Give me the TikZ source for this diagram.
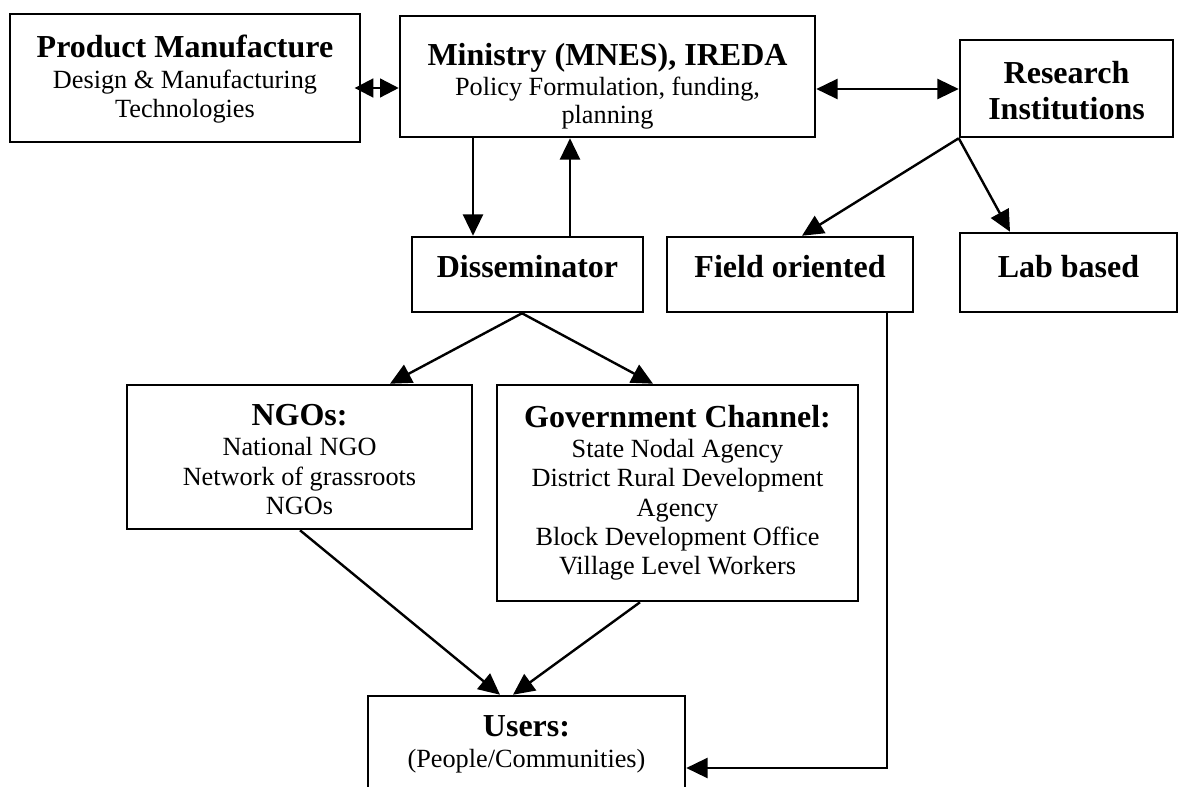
\documentclass[tikz,border=0pt]{standalone}
\usepackage{fontspec}
\setmainfont{Liberation Serif}
\usetikzlibrary{arrows.meta}
\newcommand\hdfont{\fontsize{24}{27}\selectfont\bfseries}
\newcommand\bdfont{\fontsize{19.7}{22}\selectfont}
\begin{document}
\begin{tikzpicture}[x=0.75pt,y=-0.75pt,
  box/.style={draw,line width=1.9pt,rectangle,inner sep=0pt},
  txt/.style={align=center,font=\bdfont,inner sep=0pt},
  oneline/.style={box,font=\hdfont,text height=16pt,text depth=11pt},
  arr/.style={line width=1.8pt,-{Triangle[length=16pt,width=15pt]}},
  darr/.style={line width=1.8pt,{Triangle[length=16pt,width=15pt]}-{Triangle[length=16pt,width=15pt]}},
  sdarr/.style={line width=1.8pt,{Triangle[length=14pt,width=14pt]}-{Triangle[length=14pt,width=14pt]}}]
\clip (0,0) rectangle (1182,787);
\fill[white] (0,0) rectangle (1182,787);

% top row
\node[box,minimum width=262.5pt,minimum height=96pt,
  label={[txt,yshift=-0.7pt]center:{{\hdfont Product Manufacture}\\[1.5pt] Design \& Manufacturing\\ Technologies}}]
  (prod) at (185,78) {};
\node[box,minimum width=311.25pt,minimum height=90.75pt,
  label={[txt,yshift=-7pt]center:{{\hdfont Ministry (MNES), IREDA}\\[1pt] Policy Formulation, funding,\\[-1.5pt] planning}}]
  (min) at (607.5,76.5) {};
\node[box,minimum width=159.75pt,minimum height=72.75pt,
  label={[txt,font=\hdfont,yshift=-1.5pt]center:{Research\\ Institutions}}]
  (res) at (1066.5,88.5) {};

% second row
\node[oneline,minimum width=173.25pt,minimum height=56.25pt] (dis) at (527.5,274.5) {Disseminator};
\node[oneline,minimum width=184.5pt,minimum height=56.25pt] (field) at (790,274.5) {Field oriented};
\node[oneline,text depth=9pt,minimum width=162.75pt,minimum height=59.25pt] (lab) at (1068.5,272.5) {Lab based};

% channels
\node[box,minimum width=258.75pt,minimum height=108pt,
  label={[txt,yshift=-2pt]center:{{\hdfont NGOs:}\\[0.5pt] National NGO\\ Network of grassroots\\ NGOs}}]
  (ngo) at (299.5,457) {};
\node[box,minimum width=270.75pt,minimum height=162pt,
  label={[txt]center:{{\hdfont Government Channel:}\\[0.5pt] State Nodal Agency\\ District Rural Development\\ Agency\\ Block Development Office\\ Village Level Workers}}]
  (gov) at (677.5,493) {};

% users
\node[box,minimum width=237.75pt,minimum height=72pt,
  label={[txt]center:{{\hdfont Users:}\\[1pt] (People/Communities)}}]
  (users) at (526.5,744) {};

% connectors
\draw[sdarr] ([xshift=-5pt]prod.east |- 0,88) -- (min.west |- 0,88);
\draw[darr] (min.east |- 0,89) -- (res.west |- 0,89);
\draw[arr] (min.south -| 473,0) -- (dis.north -| 473,0);
\draw[arr] (dis.north -| 570,0) -- (min.south -| 570,0);
\draw[arr] (res.south west) -- (field.north -| 802,0);
\draw[arr] (res.south west) -- (lab.north -| 1010,0);
\draw[arr] (dis.south -| 522,0) -- (ngo.north -| 390,0);
\draw[arr] (dis.south -| 522,0) -- (gov.north -| 653,0);
\draw[arr] (ngo.south -| 300,0) -- (users.north -| 500,0);
\draw[arr] (gov.south -| 640,0) -- (users.north -| 513,0);
\draw[arr] (field.south -| 887,0) |- (users.east |- 0,768);
\end{tikzpicture}
\end{document}
